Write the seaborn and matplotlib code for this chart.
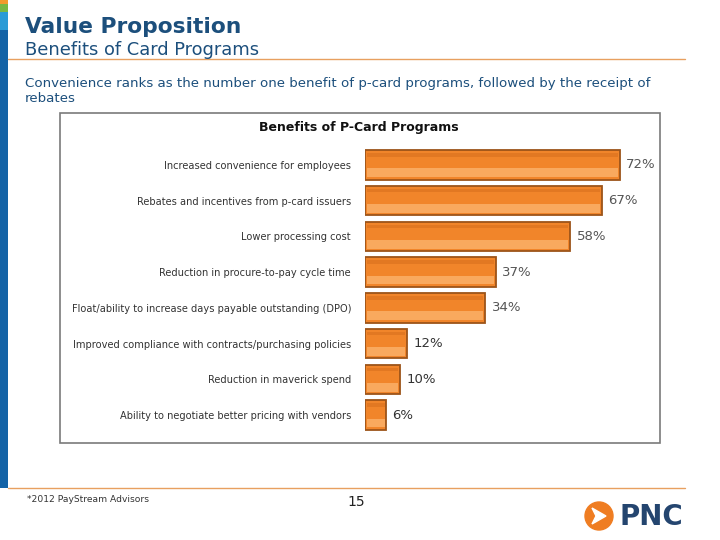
import matplotlib
matplotlib.use("Agg")
import matplotlib.pyplot as plt
from matplotlib.patches import Rectangle, Circle, Polygon
import pandas as pd
import seaborn as sns

# data
benefits = [
    "Increased convenience for employees",
    "Rebates and incentives from p-card issuers",
    "Lower processing cost",
    "Reduction in procure-to-pay cycle time",
    "Float/ability to increase days payable outstanding (DPO)",
    "Improved compliance with contracts/purchasing policies",
    "Reduction in maverick spend",
    "Ability to negotiate better pricing with vendors",
]
percents = [72, 67, 58, 37, 34, 12, 10, 6]

df = pd.DataFrame({"Benefit": benefits, "Percent": percents})

sns.set_style("white")
plt.rcParams["font.family"] = ["DejaVu Sans"]

W, H = 720, 540
fig = plt.figure(figsize=(W / 100, H / 100), dpi=100)
fig.patch.set_facecolor("white")


def fx(x):
    return x / W


def fy(y):
    return 1 - y / H


navy = "#1c4f7c"

# left side strip
fig.add_artist(Rectangle((0, fy(488)), fx(8), fy(30) - fy(488), transform=fig.transFigure,
                         color="#1463a6", lw=0))
fig.add_artist(Rectangle((0, fy(30)), fx(8), fy(12) - fy(30), transform=fig.transFigure,
                         color="#2a9bd6", lw=0))
fig.add_artist(Rectangle((0, fy(12)), fx(8), fy(4) - fy(12), transform=fig.transFigure,
                         color="#78b843", lw=0))
fig.add_artist(Rectangle((0, fy(4)), fx(8), fy(0) - fy(4), transform=fig.transFigure,
                         color="#f39a2b", lw=0))

# header
fig.text(fx(25), fy(27), "Value Proposition", fontsize=15.7, fontweight="bold",
         color=navy, va="center", ha="left")
fig.text(fx(25), fy(50), "Benefits of Card Programs", fontsize=12.9,
         color=navy, va="center", ha="left")
fig.add_artist(plt.Line2D([fx(8), fx(685)], [fy(59), fy(59)], transform=fig.transFigure,
                          color="#e8a060", lw=1))
fig.text(fx(25), fy(83),
         "Convenience ranks as the number one benefit of p-card programs, followed by the receipt of",
         fontsize=9.6, color=navy, va="center", ha="left")
fig.text(fx(25), fy(98), "rebates", fontsize=9.6, color=navy, va="center", ha="left")

# chart frame (behind the bars)
fig.add_artist(Rectangle((fx(60), fy(443)), fx(660) - fx(60), fy(113) - fy(443),
                         transform=fig.transFigure, facecolor="white",
                         edgecolor="#7a7a7a", lw=1.2, zorder=-1))
fig.text(fx(359), fy(128), "Benefits of P-Card Programs", fontsize=9, fontweight="bold",
         color="#111111", va="center", ha="center")

# bar chart
ax = fig.add_axes([fx(365), fy(433), fx(650) - fx(365), fy(147) - fy(433)])
ax.patch.set_alpha(0)
sns.barplot(data=df, x="Percent", y="Benefit", orient="h", ax=ax, color="#f1852a",
            width=0.82, edgecolor="#9c5419", linewidth=1.3, saturation=1)

# bevel look: lighter lower band inside each bar
for bar in list(ax.patches):
    x0, y0 = bar.get_x(), bar.get_y()
    w, h = bar.get_width(), bar.get_height()
    inset = min(0.6, w * 0.08)
    ax.add_patch(Rectangle((x0 + inset, y0 + h * 0.62), w - 2 * inset, h * 0.3,
                           facecolor="#f9a95e", lw=0, zorder=bar.get_zorder() + 0.1))
    ax.add_patch(Rectangle((x0 + inset, y0 + h * 0.1), w - 2 * inset, h * 0.12,
                           facecolor="#d8701e", lw=0, alpha=0.6, zorder=bar.get_zorder() + 0.1))

ax.set_xlim(0, 80.5)
ax.set_xlabel("")
ax.set_ylabel("")
ax.set_xticks([])
ax.tick_params(axis="y", length=0, pad=10, labelsize=7.1, labelcolor="#333333")
for side in ["top", "right", "bottom", "left"]:
    ax.spines[side].set_visible(False)

for i, v in enumerate(percents):
    col = "#555555" if v > 30 else "#333333"
    ax.text(v + 1.8, i, f"{v}%", va="center", ha="left", fontsize=9.5, color=col)

# footer
fig.add_artist(plt.Line2D([fx(8), fx(685)], [fy(488), fy(488)], transform=fig.transFigure,
                          color="#e8a060", lw=1))
fig.text(fx(27), fy(500), "*2012 PayStream Advisors", fontsize=6.6, color="#333333",
         va="center", ha="left")
fig.text(fx(356), fy(502), "15", fontsize=10, color="#222222", va="center", ha="center")

# PNC logo
logo_ax = fig.add_axes([fx(582), fy(532), fx(620) - fx(582), fy(500) - fy(532)])
logo_ax.set_xlim(0, 38)
logo_ax.set_ylim(0, 32)
logo_ax.set_aspect("equal")
logo_ax.axis("off")
logo_ax.add_patch(Circle((17, 16), 14, color="#ef7d22"))
logo_ax.add_patch(Polygon([[10, 8], [24, 16], [10, 24], [14, 16]], closed=True, color="white"))
fig.text(fx(651), fy(517), "PNC", fontsize=20, color="#24456f", va="center", ha="center",
         fontweight="bold", family=["Liberation Sans Narrow", "DejaVu Sans"])

fig.savefig("out.png", dpi=100)
